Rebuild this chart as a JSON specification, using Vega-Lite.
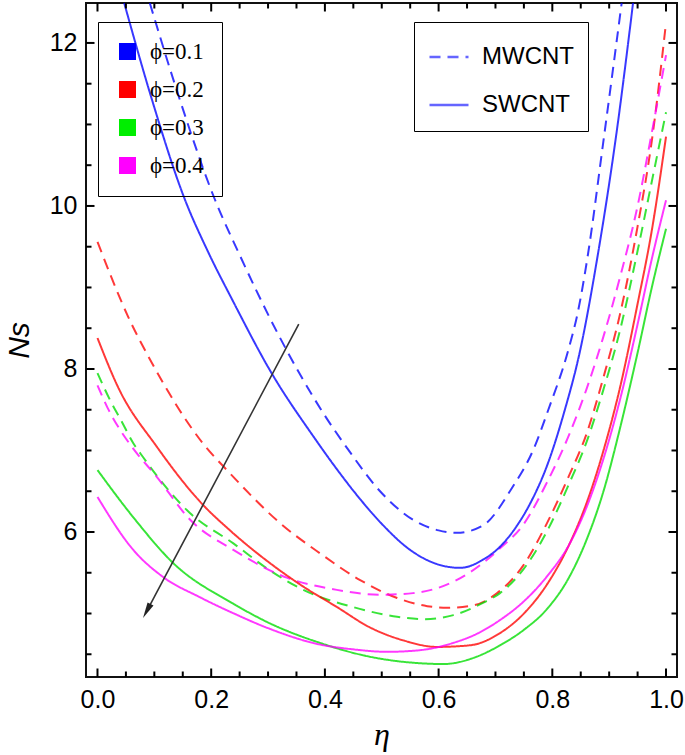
{
  "$schema": "https://vega.github.io/schema/vega-lite/v6.json",
  "width": 591,
  "height": 674,
  "autosize": {"type": "none"},
  "padding": {"left": 86, "top": 3, "right": 8, "bottom": 78},
  "background": "white",
  "config": {
    "view": {"stroke": "#111111", "strokeWidth": 2},
    "font": "Liberation Sans"
  },
  "datasets": {
    "curves": [
      {"eta": 0.047, "Ns": 12.49, "phi": "ϕ=0.1", "type": "SWCNT"},
      {"eta": 0.096, "Ns": 11.3, "phi": "ϕ=0.1", "type": "SWCNT"},
      {"eta": 0.152, "Ns": 10.11, "phi": "ϕ=0.1", "type": "SWCNT"},
      {"eta": 0.195, "Ns": 9.43, "phi": "ϕ=0.1", "type": "SWCNT"},
      {"eta": 0.237, "Ns": 8.85, "phi": "ϕ=0.1", "type": "SWCNT"},
      {"eta": 0.307, "Ns": 7.94, "phi": "ϕ=0.1", "type": "SWCNT"},
      {"eta": 0.38, "Ns": 7.17, "phi": "ϕ=0.1", "type": "SWCNT"},
      {"eta": 0.42, "Ns": 6.78, "phi": "ϕ=0.1", "type": "SWCNT"},
      {"eta": 0.46, "Ns": 6.42, "phi": "ϕ=0.1", "type": "SWCNT"},
      {"eta": 0.5, "Ns": 6.1, "phi": "ϕ=0.1", "type": "SWCNT"},
      {"eta": 0.55, "Ns": 5.78, "phi": "ϕ=0.1", "type": "SWCNT"},
      {"eta": 0.6, "Ns": 5.6, "phi": "ϕ=0.1", "type": "SWCNT"},
      {"eta": 0.638, "Ns": 5.56, "phi": "ϕ=0.1", "type": "SWCNT"},
      {"eta": 0.678, "Ns": 5.66, "phi": "ϕ=0.1", "type": "SWCNT"},
      {"eta": 0.708, "Ns": 5.82, "phi": "ϕ=0.1", "type": "SWCNT"},
      {"eta": 0.74, "Ns": 6.1, "phi": "ϕ=0.1", "type": "SWCNT"},
      {"eta": 0.764, "Ns": 6.39, "phi": "ϕ=0.1", "type": "SWCNT"},
      {"eta": 0.79, "Ns": 6.8, "phi": "ϕ=0.1", "type": "SWCNT"},
      {"eta": 0.82, "Ns": 7.45, "phi": "ϕ=0.1", "type": "SWCNT"},
      {"eta": 0.849, "Ns": 8.23, "phi": "ϕ=0.1", "type": "SWCNT"},
      {"eta": 0.88, "Ns": 9.4, "phi": "ϕ=0.1", "type": "SWCNT"},
      {"eta": 0.912, "Ns": 10.85, "phi": "ϕ=0.1", "type": "SWCNT"},
      {"eta": 0.942, "Ns": 12.49, "phi": "ϕ=0.1", "type": "SWCNT"},

      {"eta": 0.092, "Ns": 12.49, "phi": "ϕ=0.1", "type": "MWCNT"},
      {"eta": 0.145, "Ns": 11.3, "phi": "ϕ=0.1", "type": "MWCNT"},
      {"eta": 0.207, "Ns": 10.07, "phi": "ϕ=0.1", "type": "MWCNT"},
      {"eta": 0.248, "Ns": 9.43, "phi": "ϕ=0.1", "type": "MWCNT"},
      {"eta": 0.316, "Ns": 8.45, "phi": "ϕ=0.1", "type": "MWCNT"},
      {"eta": 0.397, "Ns": 7.46, "phi": "ϕ=0.1", "type": "MWCNT"},
      {"eta": 0.441, "Ns": 7.01, "phi": "ϕ=0.1", "type": "MWCNT"},
      {"eta": 0.497, "Ns": 6.5, "phi": "ϕ=0.1", "type": "MWCNT"},
      {"eta": 0.555, "Ns": 6.15, "phi": "ϕ=0.1", "type": "MWCNT"},
      {"eta": 0.6, "Ns": 6.02, "phi": "ϕ=0.1", "type": "MWCNT"},
      {"eta": 0.632, "Ns": 5.99, "phi": "ϕ=0.1", "type": "MWCNT"},
      {"eta": 0.678, "Ns": 6.08, "phi": "ϕ=0.1", "type": "MWCNT"},
      {"eta": 0.729, "Ns": 6.54, "phi": "ϕ=0.1", "type": "MWCNT"},
      {"eta": 0.766, "Ns": 7.0, "phi": "ϕ=0.1", "type": "MWCNT"},
      {"eta": 0.793, "Ns": 7.5, "phi": "ϕ=0.1", "type": "MWCNT"},
      {"eta": 0.828, "Ns": 8.23, "phi": "ϕ=0.1", "type": "MWCNT"},
      {"eta": 0.845, "Ns": 8.7, "phi": "ϕ=0.1", "type": "MWCNT"},
      {"eta": 0.863, "Ns": 9.42, "phi": "ϕ=0.1", "type": "MWCNT"},
      {"eta": 0.889, "Ns": 10.75, "phi": "ϕ=0.1", "type": "MWCNT"},
      {"eta": 0.922, "Ns": 12.49, "phi": "ϕ=0.1", "type": "MWCNT"},

      {"eta": 0.0, "Ns": 9.56, "phi": "ϕ=0.2", "type": "MWCNT"},
      {"eta": 0.054, "Ns": 8.64, "phi": "ϕ=0.2", "type": "MWCNT"},
      {"eta": 0.096, "Ns": 8.07, "phi": "ϕ=0.2", "type": "MWCNT"},
      {"eta": 0.184, "Ns": 7.1, "phi": "ϕ=0.2", "type": "MWCNT"},
      {"eta": 0.233, "Ns": 6.72, "phi": "ϕ=0.2", "type": "MWCNT"},
      {"eta": 0.321, "Ns": 6.11, "phi": "ϕ=0.2", "type": "MWCNT"},
      {"eta": 0.391, "Ns": 5.74, "phi": "ϕ=0.2", "type": "MWCNT"},
      {"eta": 0.462, "Ns": 5.41, "phi": "ϕ=0.2", "type": "MWCNT"},
      {"eta": 0.527, "Ns": 5.19, "phi": "ϕ=0.2", "type": "MWCNT"},
      {"eta": 0.58, "Ns": 5.09, "phi": "ϕ=0.2", "type": "MWCNT"},
      {"eta": 0.615, "Ns": 5.07, "phi": "ϕ=0.2", "type": "MWCNT"},
      {"eta": 0.661, "Ns": 5.1, "phi": "ϕ=0.2", "type": "MWCNT"},
      {"eta": 0.703, "Ns": 5.25, "phi": "ϕ=0.2", "type": "MWCNT"},
      {"eta": 0.75, "Ns": 5.6, "phi": "ϕ=0.2", "type": "MWCNT"},
      {"eta": 0.79, "Ns": 6.1, "phi": "ϕ=0.2", "type": "MWCNT"},
      {"eta": 0.83, "Ns": 6.7, "phi": "ϕ=0.2", "type": "MWCNT"},
      {"eta": 0.86, "Ns": 7.2, "phi": "ϕ=0.2", "type": "MWCNT"},
      {"eta": 0.89, "Ns": 7.9, "phi": "ϕ=0.2", "type": "MWCNT"},
      {"eta": 0.92, "Ns": 8.7, "phi": "ϕ=0.2", "type": "MWCNT"},
      {"eta": 0.95, "Ns": 9.75, "phi": "ϕ=0.2", "type": "MWCNT"},
      {"eta": 0.975, "Ns": 10.8, "phi": "ϕ=0.2", "type": "MWCNT"},
      {"eta": 1.0, "Ns": 12.25, "phi": "ϕ=0.2", "type": "MWCNT"},

      {"eta": 0.0, "Ns": 8.38, "phi": "ϕ=0.2", "type": "SWCNT"},
      {"eta": 0.036, "Ns": 7.78, "phi": "ϕ=0.2", "type": "SWCNT"},
      {"eta": 0.105, "Ns": 7.04, "phi": "ϕ=0.2", "type": "SWCNT"},
      {"eta": 0.186, "Ns": 6.33, "phi": "ϕ=0.2", "type": "SWCNT"},
      {"eta": 0.233, "Ns": 6.02, "phi": "ϕ=0.2", "type": "SWCNT"},
      {"eta": 0.303, "Ns": 5.62, "phi": "ϕ=0.2", "type": "SWCNT"},
      {"eta": 0.362, "Ns": 5.33, "phi": "ϕ=0.2", "type": "SWCNT"},
      {"eta": 0.421, "Ns": 5.08, "phi": "ϕ=0.2", "type": "SWCNT"},
      {"eta": 0.479, "Ns": 4.83, "phi": "ϕ=0.2", "type": "SWCNT"},
      {"eta": 0.538, "Ns": 4.67, "phi": "ϕ=0.2", "type": "SWCNT"},
      {"eta": 0.597, "Ns": 4.59, "phi": "ϕ=0.2", "type": "SWCNT"},
      {"eta": 0.655, "Ns": 4.61, "phi": "ϕ=0.2", "type": "SWCNT"},
      {"eta": 0.708, "Ns": 4.76, "phi": "ϕ=0.2", "type": "SWCNT"},
      {"eta": 0.75, "Ns": 5.0, "phi": "ϕ=0.2", "type": "SWCNT"},
      {"eta": 0.79, "Ns": 5.35, "phi": "ϕ=0.2", "type": "SWCNT"},
      {"eta": 0.83, "Ns": 5.85, "phi": "ϕ=0.2", "type": "SWCNT"},
      {"eta": 0.86, "Ns": 6.35, "phi": "ϕ=0.2", "type": "SWCNT"},
      {"eta": 0.89, "Ns": 7.0, "phi": "ϕ=0.2", "type": "SWCNT"},
      {"eta": 0.92, "Ns": 7.8, "phi": "ϕ=0.2", "type": "SWCNT"},
      {"eta": 0.95, "Ns": 8.8, "phi": "ϕ=0.2", "type": "SWCNT"},
      {"eta": 0.975, "Ns": 9.7, "phi": "ϕ=0.2", "type": "SWCNT"},
      {"eta": 1.0, "Ns": 10.85, "phi": "ϕ=0.2", "type": "SWCNT"},

      {"eta": 0.0, "Ns": 7.95, "phi": "ϕ=0.3", "type": "MWCNT"},
      {"eta": 0.022, "Ns": 7.62, "phi": "ϕ=0.3", "type": "MWCNT"},
      {"eta": 0.043, "Ns": 7.35, "phi": "ϕ=0.3", "type": "MWCNT"},
      {"eta": 0.063, "Ns": 7.09, "phi": "ϕ=0.3", "type": "MWCNT"},
      {"eta": 0.08, "Ns": 6.92, "phi": "ϕ=0.3", "type": "MWCNT"},
      {"eta": 0.163, "Ns": 6.23, "phi": "ϕ=0.3", "type": "MWCNT"},
      {"eta": 0.239, "Ns": 5.86, "phi": "ϕ=0.3", "type": "MWCNT"},
      {"eta": 0.303, "Ns": 5.53, "phi": "ϕ=0.3", "type": "MWCNT"},
      {"eta": 0.362, "Ns": 5.29, "phi": "ϕ=0.3", "type": "MWCNT"},
      {"eta": 0.449, "Ns": 5.08, "phi": "ϕ=0.3", "type": "MWCNT"},
      {"eta": 0.527, "Ns": 4.96, "phi": "ϕ=0.3", "type": "MWCNT"},
      {"eta": 0.573, "Ns": 4.93, "phi": "ϕ=0.3", "type": "MWCNT"},
      {"eta": 0.626, "Ns": 4.98, "phi": "ϕ=0.3", "type": "MWCNT"},
      {"eta": 0.678, "Ns": 5.13, "phi": "ϕ=0.3", "type": "MWCNT"},
      {"eta": 0.708, "Ns": 5.25, "phi": "ϕ=0.3", "type": "MWCNT"},
      {"eta": 0.75, "Ns": 5.55, "phi": "ϕ=0.3", "type": "MWCNT"},
      {"eta": 0.79, "Ns": 6.0, "phi": "ϕ=0.3", "type": "MWCNT"},
      {"eta": 0.83, "Ns": 6.6, "phi": "ϕ=0.3", "type": "MWCNT"},
      {"eta": 0.86, "Ns": 7.1, "phi": "ϕ=0.3", "type": "MWCNT"},
      {"eta": 0.89, "Ns": 7.75, "phi": "ϕ=0.3", "type": "MWCNT"},
      {"eta": 0.92, "Ns": 8.5, "phi": "ϕ=0.3", "type": "MWCNT"},
      {"eta": 0.95, "Ns": 9.45, "phi": "ϕ=0.3", "type": "MWCNT"},
      {"eta": 0.975, "Ns": 10.3, "phi": "ϕ=0.3", "type": "MWCNT"},
      {"eta": 1.0, "Ns": 11.15, "phi": "ϕ=0.3", "type": "MWCNT"},

      {"eta": 0.0, "Ns": 6.76, "phi": "ϕ=0.3", "type": "SWCNT"},
      {"eta": 0.063, "Ns": 6.18, "phi": "ϕ=0.3", "type": "SWCNT"},
      {"eta": 0.133, "Ns": 5.62, "phi": "ϕ=0.3", "type": "SWCNT"},
      {"eta": 0.239, "Ns": 5.12, "phi": "ϕ=0.3", "type": "SWCNT"},
      {"eta": 0.303, "Ns": 4.88, "phi": "ϕ=0.3", "type": "SWCNT"},
      {"eta": 0.391, "Ns": 4.64, "phi": "ϕ=0.3", "type": "SWCNT"},
      {"eta": 0.479, "Ns": 4.47, "phi": "ϕ=0.3", "type": "SWCNT"},
      {"eta": 0.567, "Ns": 4.39, "phi": "ϕ=0.3", "type": "SWCNT"},
      {"eta": 0.608, "Ns": 4.38, "phi": "ϕ=0.3", "type": "SWCNT"},
      {"eta": 0.667, "Ns": 4.47, "phi": "ϕ=0.3", "type": "SWCNT"},
      {"eta": 0.708, "Ns": 4.61, "phi": "ϕ=0.3", "type": "SWCNT"},
      {"eta": 0.75, "Ns": 4.8, "phi": "ϕ=0.3", "type": "SWCNT"},
      {"eta": 0.79, "Ns": 5.05, "phi": "ϕ=0.3", "type": "SWCNT"},
      {"eta": 0.83, "Ns": 5.45, "phi": "ϕ=0.3", "type": "SWCNT"},
      {"eta": 0.86, "Ns": 5.9, "phi": "ϕ=0.3", "type": "SWCNT"},
      {"eta": 0.89, "Ns": 6.5, "phi": "ϕ=0.3", "type": "SWCNT"},
      {"eta": 0.92, "Ns": 7.3, "phi": "ϕ=0.3", "type": "SWCNT"},
      {"eta": 0.95, "Ns": 8.2, "phi": "ϕ=0.3", "type": "SWCNT"},
      {"eta": 0.975, "Ns": 9.0, "phi": "ϕ=0.3", "type": "SWCNT"},
      {"eta": 1.0, "Ns": 9.72, "phi": "ϕ=0.3", "type": "SWCNT"},

      {"eta": 0.0, "Ns": 7.8, "phi": "ϕ=0.4", "type": "MWCNT"},
      {"eta": 0.018, "Ns": 7.52, "phi": "ϕ=0.4", "type": "MWCNT"},
      {"eta": 0.04, "Ns": 7.25, "phi": "ϕ=0.4", "type": "MWCNT"},
      {"eta": 0.061, "Ns": 7.04, "phi": "ϕ=0.4", "type": "MWCNT"},
      {"eta": 0.105, "Ns": 6.67, "phi": "ϕ=0.4", "type": "MWCNT"},
      {"eta": 0.163, "Ns": 6.15, "phi": "ϕ=0.4", "type": "MWCNT"},
      {"eta": 0.239, "Ns": 5.78, "phi": "ϕ=0.4", "type": "MWCNT"},
      {"eta": 0.333, "Ns": 5.44, "phi": "ϕ=0.4", "type": "MWCNT"},
      {"eta": 0.421, "Ns": 5.29, "phi": "ϕ=0.4", "type": "MWCNT"},
      {"eta": 0.497, "Ns": 5.23, "phi": "ϕ=0.4", "type": "MWCNT"},
      {"eta": 0.555, "Ns": 5.25, "phi": "ϕ=0.4", "type": "MWCNT"},
      {"eta": 0.626, "Ns": 5.39, "phi": "ϕ=0.4", "type": "MWCNT"},
      {"eta": 0.678, "Ns": 5.62, "phi": "ϕ=0.4", "type": "MWCNT"},
      {"eta": 0.708, "Ns": 5.8, "phi": "ϕ=0.4", "type": "MWCNT"},
      {"eta": 0.75, "Ns": 6.1, "phi": "ϕ=0.4", "type": "MWCNT"},
      {"eta": 0.79, "Ns": 6.6, "phi": "ϕ=0.4", "type": "MWCNT"},
      {"eta": 0.83, "Ns": 7.2, "phi": "ϕ=0.4", "type": "MWCNT"},
      {"eta": 0.86, "Ns": 7.75, "phi": "ϕ=0.4", "type": "MWCNT"},
      {"eta": 0.89, "Ns": 8.4, "phi": "ϕ=0.4", "type": "MWCNT"},
      {"eta": 0.92, "Ns": 9.15, "phi": "ϕ=0.4", "type": "MWCNT"},
      {"eta": 0.95, "Ns": 10.0, "phi": "ϕ=0.4", "type": "MWCNT"},
      {"eta": 0.975, "Ns": 10.9, "phi": "ϕ=0.4", "type": "MWCNT"},
      {"eta": 1.0, "Ns": 11.85, "phi": "ϕ=0.4", "type": "MWCNT"},

      {"eta": 0.0, "Ns": 6.43, "phi": "ϕ=0.4", "type": "SWCNT"},
      {"eta": 0.063, "Ns": 5.78, "phi": "ϕ=0.4", "type": "SWCNT"},
      {"eta": 0.115, "Ns": 5.45, "phi": "ϕ=0.4", "type": "SWCNT"},
      {"eta": 0.18, "Ns": 5.2, "phi": "ϕ=0.4", "type": "SWCNT"},
      {"eta": 0.24, "Ns": 5.0, "phi": "ϕ=0.4", "type": "SWCNT"},
      {"eta": 0.3, "Ns": 4.82, "phi": "ϕ=0.4", "type": "SWCNT"},
      {"eta": 0.391, "Ns": 4.62, "phi": "ϕ=0.4", "type": "SWCNT"},
      {"eta": 0.45, "Ns": 4.56, "phi": "ϕ=0.4", "type": "SWCNT"},
      {"eta": 0.509, "Ns": 4.53, "phi": "ϕ=0.4", "type": "SWCNT"},
      {"eta": 0.567, "Ns": 4.55, "phi": "ϕ=0.4", "type": "SWCNT"},
      {"eta": 0.626, "Ns": 4.64, "phi": "ϕ=0.4", "type": "SWCNT"},
      {"eta": 0.667, "Ns": 4.75, "phi": "ϕ=0.4", "type": "SWCNT"},
      {"eta": 0.708, "Ns": 4.92, "phi": "ϕ=0.4", "type": "SWCNT"},
      {"eta": 0.75, "Ns": 5.15, "phi": "ϕ=0.4", "type": "SWCNT"},
      {"eta": 0.79, "Ns": 5.45, "phi": "ϕ=0.4", "type": "SWCNT"},
      {"eta": 0.83, "Ns": 5.85, "phi": "ϕ=0.4", "type": "SWCNT"},
      {"eta": 0.86, "Ns": 6.3, "phi": "ϕ=0.4", "type": "SWCNT"},
      {"eta": 0.89, "Ns": 6.9, "phi": "ϕ=0.4", "type": "SWCNT"},
      {"eta": 0.92, "Ns": 7.65, "phi": "ϕ=0.4", "type": "SWCNT"},
      {"eta": 0.95, "Ns": 8.55, "phi": "ϕ=0.4", "type": "SWCNT"},
      {"eta": 0.975, "Ns": 9.35, "phi": "ϕ=0.4", "type": "SWCNT"},
      {"eta": 1.0, "Ns": 10.07, "phi": "ϕ=0.4", "type": "SWCNT"}
    ],
    "arrow": [
      {"eta": 0.354, "Ns": 8.55},
      {"eta": 0.0867, "Ns": 5.03}
    ],
    "head": [
      {"eta": 0.0867, "Ns": 5.03}
    ],
    "xticks": [
      {"v": 0.0, "k": "major"}, {"v": 0.05, "k": "minor"}, {"v": 0.1, "k": "minor"}, {"v": 0.15, "k": "minor"},
      {"v": 0.2, "k": "major"}, {"v": 0.25, "k": "minor"}, {"v": 0.3, "k": "minor"}, {"v": 0.35, "k": "minor"},
      {"v": 0.4, "k": "major"}, {"v": 0.45, "k": "minor"}, {"v": 0.5, "k": "minor"}, {"v": 0.55, "k": "minor"},
      {"v": 0.6, "k": "major"}, {"v": 0.65, "k": "minor"}, {"v": 0.7, "k": "minor"}, {"v": 0.75, "k": "minor"},
      {"v": 0.8, "k": "major"}, {"v": 0.85, "k": "minor"}, {"v": 0.9, "k": "minor"}, {"v": 0.95, "k": "minor"},
      {"v": 1.0, "k": "major"}
    ],
    "yticks": [
      {"v": 4.5, "k": "minor"}, {"v": 5.0, "k": "minor"}, {"v": 5.5, "k": "minor"}, {"v": 6.0, "k": "major"},
      {"v": 6.5, "k": "minor"}, {"v": 7.0, "k": "minor"}, {"v": 7.5, "k": "minor"}, {"v": 8.0, "k": "major"},
      {"v": 8.5, "k": "minor"}, {"v": 9.0, "k": "minor"}, {"v": 9.5, "k": "minor"}, {"v": 10.0, "k": "major"},
      {"v": 10.5, "k": "minor"}, {"v": 11.0, "k": "minor"}, {"v": 11.5, "k": "minor"}, {"v": 12.0, "k": "major"}
    ]
  },
  "resolve": {"axis": {"x": "independent", "y": "independent"}},
  "layer": [
    {
      "data": {"name": "curves"},
      "mark": {"type": "square", "size": 0, "filled": true, "opacity": 1},
      "encoding": {
        "x": {"field": "eta", "type": "quantitative", "axis": null,
              "scale": {"domain": [-0.0202, 1.0193], "nice": false, "zero": false}},
        "y": {"field": "Ns", "type": "quantitative", "axis": null,
              "scale": {"domain": [4.221, 12.49], "nice": false, "zero": false}},
        "fill": {
          "field": "phi", "type": "nominal",
          "scale": {"domain": ["ϕ=0.1", "ϕ=0.2", "ϕ=0.3", "ϕ=0.4"], "range": ["#0000ff", "#ff0000", "#00ee00", "#ff00ff"]},
          "legend": {
            "orient": "none", "legendX": 12, "legendY": 19, "title": null,
            "symbolType": "square", "symbolSize": 289, "symbolStrokeWidth": 0, "symbolOpacity": 1,
            "labelFont": "Liberation Serif", "labelFontSize": 23, "labelColor": "black", "labelOffset": 11,
            "rowPadding": 14, "padding": 18, "strokeColor": "black"
          }
        }
      }
    },
    {
      "data": {"name": "curves"},
      "transform": [{"filter": "datum.type == 'MWCNT'"}],
      "mark": {"type": "line", "clip": true, "strokeWidth": 2, "opacity": 0.78, "interpolate": "monotone"},
      "encoding": {
        "x": {
          "field": "eta", "type": "quantitative",
          "axis": {
            "orient": "bottom",
            "values": [0, 0.2, 0.4, 0.6, 0.8, 1.0],
            "format": ".1f",
            "domain": false, "ticks": false, "grid": false,
            "labelFont": "Liberation Sans", "labelFontSize": 25, "labelColor": "black",
            "labelPadding": 10, "labelFlush": false, "labelOverlap": false,
            "title": "η", "titleFont": "Liberation Serif", "titleFontStyle": "italic", "titleFontWeight": "normal",
            "titleFontSize": 32, "titleColor": "black", "titlePadding": 7
          }
        },
        "y": {
          "field": "Ns", "type": "quantitative",
          "axis": {
            "orient": "left",
            "values": [6, 8, 10, 12],
            "format": "d",
            "domain": false, "ticks": false, "grid": false,
            "labelFont": "Liberation Sans", "labelFontSize": 25, "labelColor": "black",
            "labelPadding": 9, "labelFlush": false, "labelOverlap": false,
            "title": "Ns", "titleFont": "Liberation Sans", "titleFontStyle": "italic", "titleFontWeight": "normal",
            "titleFontSize": 30, "titleColor": "black", "titlePadding": 15
          }
        },
        "stroke": {
          "field": "phi", "type": "nominal",
          "scale": {"domain": ["ϕ=0.1", "ϕ=0.2", "ϕ=0.3", "ϕ=0.4"], "range": ["#0000ff", "#ff0000", "#00dd00", "#ff00ff"]},
          "legend": null
        },
        "strokeDash": {
          "field": "type", "type": "nominal",
          "scale": {"domain": ["MWCNT", "SWCNT"], "range": [[11, 7], [1, 0]]},
          "legend": {
            "orient": "none", "legendX": 328, "legendY": 19, "title": null,
            "symbolType": "stroke", "symbolSize": 1521, "symbolStrokeWidth": 2.5, "symbolStrokeColor": "#3b3bff", "symbolOpacity": 1,
            "labelFont": "Liberation Sans", "labelFontSize": 24, "labelColor": "black", "labelOffset": 12,
            "rowPadding": 15, "padding": 14, "strokeColor": "black"
          }
        }
      }
    },
    {
      "data": {"name": "curves"},
      "transform": [{"filter": "datum.type == 'SWCNT'"}],
      "mark": {"type": "line", "clip": true, "strokeWidth": 2, "opacity": 0.78, "interpolate": "monotone"},
      "encoding": {
        "x": {"field": "eta", "type": "quantitative", "axis": null},
        "y": {"field": "Ns", "type": "quantitative", "axis": null},
        "stroke": {"field": "phi", "type": "nominal", "legend": null},
        "strokeDash": {"field": "type", "type": "nominal"}
      }
    },
    {
      "data": {"name": "arrow"},
      "mark": {"type": "line", "color": "#333333", "strokeWidth": 1.6},
      "encoding": {
        "x": {"field": "eta", "type": "quantitative", "axis": null},
        "y": {"field": "Ns", "type": "quantitative", "axis": null}
      }
    },
    {
      "data": {"name": "head"},
      "mark": {"type": "point", "shape": "M0,-1L0.42,1L-0.42,1Z", "filled": true, "color": "#222222", "opacity": 1, "size": 256, "angle": 208},
      "encoding": {
        "x": {"field": "eta", "type": "quantitative", "axis": null},
        "y": {"field": "Ns", "type": "quantitative", "axis": null}
      }
    },
    {
      "data": {"name": "xticks"},
      "mark": {"type": "tick", "orient": "vertical", "clip": true, "thickness": 2, "color": "#000000", "opacity": 1},
      "encoding": {
        "x": {"field": "v", "type": "quantitative", "axis": null},
        "y": {"datum": 4.221, "type": "quantitative", "axis": null},
        "size": {"field": "k", "type": "ordinal", "scale": {"domain": ["major", "minor"], "range": [17, 11]}, "legend": null}
      }
    },
    {
      "data": {"name": "xticks"},
      "mark": {"type": "tick", "orient": "vertical", "clip": true, "thickness": 2, "color": "#000000", "opacity": 1},
      "encoding": {
        "x": {"field": "v", "type": "quantitative", "axis": null},
        "y": {"datum": 12.49, "type": "quantitative", "axis": null},
        "size": {"field": "k", "type": "ordinal", "legend": null}
      }
    },
    {
      "data": {"name": "yticks"},
      "mark": {"type": "tick", "orient": "horizontal", "clip": true, "thickness": 2, "color": "#000000", "opacity": 1},
      "encoding": {
        "y": {"field": "v", "type": "quantitative", "axis": null},
        "x": {"datum": -0.0202, "type": "quantitative", "axis": null},
        "size": {"field": "k", "type": "ordinal", "legend": null}
      }
    },
    {
      "data": {"name": "yticks"},
      "mark": {"type": "tick", "orient": "horizontal", "clip": true, "thickness": 2, "color": "#000000", "opacity": 1},
      "encoding": {
        "y": {"field": "v", "type": "quantitative", "axis": null},
        "x": {"datum": 1.0193, "type": "quantitative", "axis": null},
        "size": {"field": "k", "type": "ordinal", "legend": null}
      }
    }
  ]
}
